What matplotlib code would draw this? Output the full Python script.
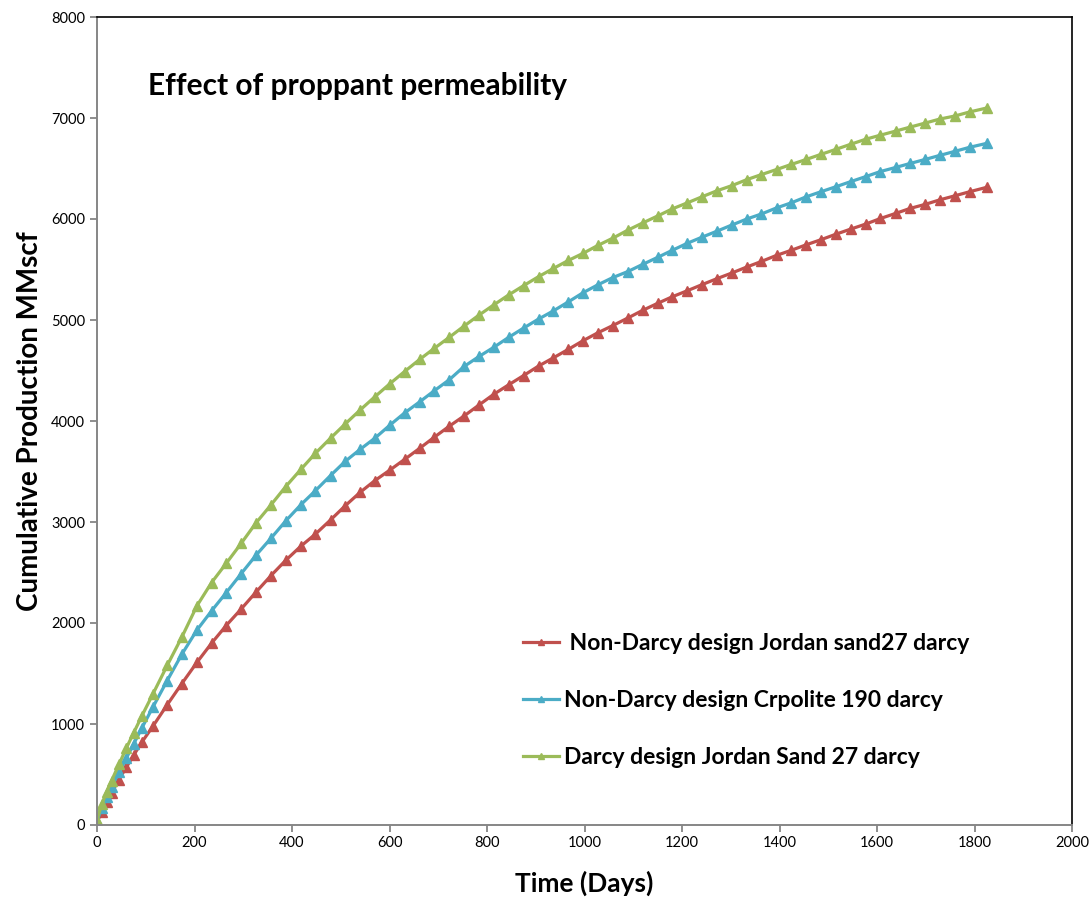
import matplotlib
matplotlib.use("Agg")
import matplotlib.pyplot as plt

# ---- data ----
days = [0, 10, 20, 30, 45, 60, 75, 92, 115, 144, 174, 205, 235, 265, 296, 326, 357, 387,
        418, 448, 479, 509, 540, 570, 601, 631, 662, 692, 723, 753, 784, 814, 845, 875,
        906, 936, 967, 997, 1028, 1058, 1089, 1119, 1150, 1180, 1211, 1241, 1272, 1302,
        1333, 1363, 1394, 1424, 1455, 1485, 1516, 1546, 1577, 1607, 1638, 1668, 1699,
        1729, 1760, 1790, 1826]

non_darcy_jordan = [30, 130, 230, 320, 450, 570, 690, 820, 980, 1190, 1400, 1610, 1800,
                    1975, 2140, 2305, 2470, 2620, 2760, 2880, 3020, 3160, 3295, 3410, 3515,
                    3620, 3730, 3840, 3950, 4050, 4160, 4265, 4360, 4450, 4545, 4625, 4710,
                    4795, 4875, 4945, 5020, 5095, 5165, 5230, 5290, 5350, 5410, 5465, 5525,
                    5580, 5640, 5690, 5745, 5795, 5850, 5900, 5950, 6005, 6055, 6105, 6145,
                    6190, 6230, 6270, 6315]

non_darcy_carbolite = [40, 170, 280, 380, 520, 660, 800, 960, 1170, 1430, 1690, 1930, 2120,
                       2300, 2490, 2670, 2840, 3010, 3170, 3310, 3460, 3600, 3720, 3830, 3960,
                       4080, 4190, 4300, 4410, 4540, 4640, 4730, 4830, 4920, 5010, 5090, 5180,
                       5270, 5350, 5420, 5480, 5550, 5620, 5690, 5760, 5820, 5880, 5940, 6000,
                       6050, 6110, 6160, 6220, 6270, 6320, 6370, 6420, 6470, 6510, 6550, 6590,
                       6630, 6670, 6710, 6750]

darcy_jordan = [50, 210, 330, 440, 600, 760, 910, 1080, 1300, 1580, 1860, 2170, 2400, 2590,
                2790, 2990, 3170, 3350, 3520, 3680, 3830, 3970, 4110, 4240, 4370, 4490, 4610,
                4720, 4830, 4940, 5050, 5150, 5250, 5340, 5430, 5510, 5590, 5660, 5740, 5810,
                5890, 5960, 6030, 6100, 6160, 6220, 6280, 6330, 6390, 6440, 6490, 6540, 6590,
                6640, 6690, 6740, 6790, 6830, 6870, 6910, 6950, 6990, 7020, 7060, 7100]

labels = [" Non-Darcy design Jordan sand27 darcy",
          "Non-Darcy design Crpolite 190 darcy",
          "Darcy design Jordan Sand 27 darcy"]
colors = ["#C0504D", "#4BACC6", "#9BBB59"]

xticks = [0, 200, 400, 600, 800, 1000, 1200, 1400, 1600, 1800, 2000]
yticks = [0, 1000, 2000, 3000, 4000, 5000, 6000, 7000, 8000]

plt.rcParams['font.family'] = ['Lato', 'DejaVu Sans']

fig = plt.figure(figsize=(10.92, 9.02), dpi=100)
ax = fig.add_axes([97/1092, 77/902, 975/1092, 808/902])

for ys, c, lab in zip([non_darcy_jordan, non_darcy_carbolite, darcy_jordan], colors, labels):
    ax.plot(days, ys, color=c, lw=2.3, marker='^', markersize=6.5, label=lab)

ax.set_xlim(0, 2000)
ax.set_ylim(0, 8000)
ax.set_xticks(xticks)
ax.set_yticks(yticks)
ax.tick_params(axis='both', labelsize=10.5, length=5, width=1.3, color='#868686', direction='out')
ax.tick_params(axis='x', pad=3)
for s in ['left', 'bottom']:
    ax.spines[s].set_color('#868686')
    ax.spines[s].set_linewidth(1.4)
for s in ['top', 'right']:
    ax.spines[s].set_color('black')
    ax.spines[s].set_linewidth(1.2)

ax.set_xlabel("Time (Days)", fontsize=19, fontweight='bold', labelpad=15)
ax.set_ylabel("Cumulative Production MMscf", fontsize=20, fontweight='bold', labelpad=6)

fig.text(148/1092, 1 - 86/902, "Effect of proppant permeability", fontsize=21.5,
         fontweight='bold', ha='left', va='center')

leg = ax.legend(loc='upper left', bbox_to_anchor=(405/975, (825 - 612)/808), frameon=False,
                prop={'weight': 'bold', 'size': 16.5}, handlelength=1.6,
                handletextpad=0.2, labelspacing=1.58, markerscale=0.7)

fig.savefig("out.png", dpi=100)
